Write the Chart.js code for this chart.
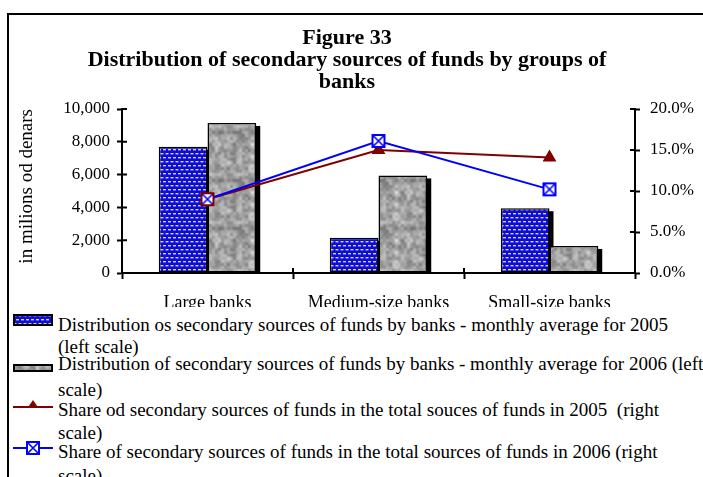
<!DOCTYPE html>
<html><head><meta charset="utf-8">
<script src="https://cdn.jsdelivr.net/npm/chart.js@4.4.0/dist/chart.umd.min.js"></script>
<style>
html,body{margin:0;padding:0;background:#fff;width:703px;height:477px;overflow:hidden;}
#frame{position:absolute;left:7px;top:13px;width:800px;height:600px;border-left:2px solid #000;border-top:2px solid #000;}
#c{position:absolute;left:0;top:0;}
#legend{position:absolute;left:10px;top:307px;width:693px;height:170px;background:#fff;font-family:"Liberation Serif","Times New Roman",serif;font-size:19px;color:#000;overflow:hidden;}
.item{position:absolute;left:48px;white-space:pre;}
.icon{position:absolute;left:3px;}
</style></head><body>
<div id="frame"></div>
<canvas id="c" width="703" height="477"></canvas>
<div id="legend"></div>
<script>
// ---- data ----
const categories = ['Large banks', 'Medium-size banks', 'Small-size banks'];
const funds2005 = [7700, 2150, 3950];
const funds2006 = [9150, 5950, 1650];
const share2005 = [9.0, 15.0, 14.1];
const share2006 = [9.0, 16.1, 10.2];
const leftTicks = [0, 2000, 4000, 6000, 8000, 10000];
const rightTicks = [0, 5, 10, 15, 20];
const titleLines = ['Figure 33', 'Distribution of secondary sources of funds by groups of', 'banks'];
const yTitle = 'in milions od denars';
const legendLabels = [
  ['Distribution os secondary sources of funds by banks - monthly average for 2005', '(left scale)'],
  ['Distribution of secondary sources of funds by banks - monthly average for 2006 (left', 'scale)'],
  ['Share od secondary sources of funds in the total souces of funds in 2005  (right', 'scale)'],
  ['Share of secondary sources of funds in the total sources of funds in 2006 (right', 'scale)']
];

// ---- styles ----
const FONT = '"Liberation Serif", "Times New Roman", serif';
const RED = '#800000', BLUE = '#0000ff';

function bluePattern(ctx) {
  const c = document.createElement('canvas'); c.width = 10; c.height = 8;
  const g = c.getContext('2d');
  g.fillStyle = '#0a0af2'; g.fillRect(0, 0, 10, 8);
  g.fillStyle = '#e4dc48';
  g.fillRect(0.5, 1, 3, 1.4); g.fillRect(5.5, 1, 3, 1.4);
  g.fillRect(3, 5, 3, 1.4); g.fillRect(8, 5, 2, 1.4); g.fillRect(0, 5, 1, 1.4);
  return ctx.createPattern(c, 'repeat');
}
function hash(x, y) {
  let n = (Math.imul(x, 374761393) + Math.imul(y, 668265263)) | 0;
  n = Math.imul(n ^ (n >>> 13), 1274126177);
  return ((n ^ (n >>> 16)) >>> 0) / 4294967296;
}
function grayPattern(ctx) {
  const S = 48, c = document.createElement('canvas'); c.width = S; c.height = S;
  const g = c.getContext('2d'); const img = g.createImageData(S, S);
  function vn(x, y, cell, salt) {
    const N = S / cell, gx = x / cell, gy = y / cell;
    const x0 = Math.floor(gx), y0 = Math.floor(gy), fx = gx - x0, fy = gy - y0;
    const sx = fx * fx * (3 - 2 * fx), sy = fy * fy * (3 - 2 * fy);
    const v = (i, j) => hash(((i % N) + N) % N + salt, ((j % N) + N) % N);
    const a = v(x0, y0), b = v(x0 + 1, y0), cc = v(x0, y0 + 1), d = v(x0 + 1, y0 + 1);
    return a + (b - a) * sx + (cc - a) * sy + (a - b - cc + d) * sx * sy;
  }
  for (let y = 0; y < S; y++) for (let x = 0; x < S; x++) {
    const val = 0.55 * vn(x, y, 6, 17) + 0.45 * vn(x, y, 3, 91);
    const gr = Math.round(110 + val * 115);
    const k = (y * S + x) * 4;
    img.data[k] = gr; img.data[k + 1] = gr; img.data[k + 2] = gr; img.data[k + 3] = 255;
  }
  g.putImageData(img, 0, 0);
  return ctx.createPattern(c, 'repeat');
}
function squareX(border) {
  const c = document.createElement('canvas'); c.width = 16; c.height = 16;
  const g = c.getContext('2d');
  g.fillStyle = '#fff'; g.fillRect(2, 2, 12, 12);
  g.strokeStyle = BLUE; g.lineWidth = 1.6;
  g.beginPath(); g.moveTo(3, 3); g.lineTo(13, 13); g.moveTo(13, 3); g.lineTo(3, 13); g.stroke();
  g.strokeStyle = border; g.lineWidth = 2; g.strokeRect(2, 2, 12, 12);
  return c;
}

const canvas = document.getElementById('c');
const ctx = canvas.getContext('2d');
const bluePat = bluePattern(ctx), grayPat = grayPattern(ctx);
const sqBlue = squareX(BLUE), sqRed = squareX(RED);

const shadowPlugin = {
  id: 'barShadow',
  beforeDatasetsDraw(chart) {
    const c = chart.ctx; c.save(); c.fillStyle = '#000';
    [0, 1].forEach(di => {
      chart.getDatasetMeta(di).data.forEach(el => {
        const p = el.getProps(['x', 'y', 'width', 'base'], true);
        c.fillRect(p.x - p.width / 2 + 4, p.y + 3, p.width, p.base - p.y - 3);
      });
    });
    c.restore();
  }
};
const innerTicks = {
  id: 'innerTicks',
  afterDraw(chart) {
    const c = chart.ctx, { x, y, y1 } = chart.scales;
    c.save(); c.strokeStyle = '#000'; c.lineWidth = 2; c.beginPath();
    y.ticks.forEach(t => { const p = y.getPixelForValue(t.value); c.moveTo(y.right, p); c.lineTo(y.right + 5, p); });
    y1.ticks.forEach(t => { const p = y1.getPixelForValue(t.value); c.moveTo(y1.left - 5, p); c.lineTo(y1.left, p); });
    for (let i = 0; i < categories.length - 1; i++) {
      const p = (x.getPixelForValue(i) + x.getPixelForValue(i + 1)) / 2;
      c.moveTo(p, x.top - 5); c.lineTo(p, x.top);
    }
    c.stroke(); c.restore();
  }
};

const tickFont = { family: FONT, size: 17 };
new Chart(canvas, {
  data: {
    labels: categories,
    datasets: [
      { type: 'bar', label: legendLabels[0].join(' '), data: funds2005, yAxisID: 'y', order: 2,
        backgroundColor: bluePat, borderColor: '#000', borderWidth: 1.5, borderSkipped: false,
        categoryPercentage: 0.57, barPercentage: 1.0 },
      { type: 'bar', label: legendLabels[1].join(' '), data: funds2006, yAxisID: 'y', order: 2,
        backgroundColor: grayPat, borderColor: '#000', borderWidth: 1.5, borderSkipped: false,
        categoryPercentage: 0.57, barPercentage: 1.0 },
      { type: 'line', label: legendLabels[2].join(' '), data: share2005, yAxisID: 'y1', order: 1,
        borderColor: RED, borderWidth: 2, backgroundColor: RED, pointBackgroundColor: RED,
        pointBorderColor: RED, pointStyle: 'triangle', pointRadius: 6, tension: 0, fill: false },
      { type: 'line', label: legendLabels[3].join(' '), data: share2006, yAxisID: 'y1', order: 0,
        borderColor: BLUE, borderWidth: 2, pointStyle: [sqRed, sqBlue, sqBlue], pointRadius: 7,
        tension: 0, fill: false }
    ]
  },
  options: {
    responsive: false, animation: false, devicePixelRatio: 1, events: [],
    layout: { padding: { top: 0, left: 0, right: 9, bottom: 164 } },
    plugins: {
      legend: { display: false }, tooltip: { enabled: false },
      title: { display: true, text: titleLines, color: '#000',
        font: { family: FONT, size: 22, weight: 'bold', lineHeight: '22px' },
        padding: { top: 27, bottom: 16 } }
    },
    scales: {
      x: { type: 'category', offset: true,
        grid: { display: true, drawOnChartArea: false, offset: true, tickLength: 6, tickColor: '#000', tickWidth: 2 },
        border: { color: '#000', width: 2, z: 1 },
        ticks: { color: '#000', font: { family: FONT, size: 18 }, padding: 13, maxRotation: 0, autoSkip: false },
        afterFit: s => { s.height = 40; } },
      y: { type: 'linear', position: 'left',
        min: leftTicks[0], max: leftTicks[leftTicks.length - 1],
        grid: { drawOnChartArea: false, tickLength: 5, tickColor: '#000', tickWidth: 2 },
        border: { color: '#000', width: 2, z: 1 },
        ticks: { color: '#000', font: tickFont, padding: 7, stepSize: leftTicks[1] - leftTicks[0],
          callback: v => v.toLocaleString('en-US') },
        title: { display: true, text: yTitle, align: 'end', color: '#000', font: { family: FONT, size: 19 }, padding: { top: 16, bottom: 0 } },
        afterFit: s => { s.width = 122; } },
      y1: { type: 'linear', position: 'right',
        min: rightTicks[0], max: rightTicks[rightTicks.length - 1],
        grid: { drawOnChartArea: false, tickLength: 5, tickColor: '#000', tickWidth: 2 },
        border: { color: '#000', width: 2, z: 1 },
        ticks: { color: '#000', font: tickFont, padding: 10, stepSize: rightTicks[1] - rightTicks[0],
          callback: v => v.toFixed(1) + '%' },
        afterFit: s => { s.width = 59; } }
    }
  },
  plugins: [shadowPlugin, innerTicks]
});

// ---- HTML legend ----
const legend = document.getElementById('legend');
const LTOP = 307;
const itemLayout = [{ c: 325, lh: 22 }, { c: 364, lh: 26 }, { c: 409, lh: 23 }, { c: 452, lh: 24 }];
const iconLayout = [{ top: 314, h: 12 }, { top: 364, h: 8 }, { top: 399, h: 14 }, { top: 440, h: 16 }];
legendLabels.forEach((lines, i) => {
  const d = document.createElement('div');
  d.className = 'item';
  d.style.top = (itemLayout[i].c - itemLayout[i].lh / 2 - LTOP) + 'px';
  d.style.lineHeight = itemLayout[i].lh + 'px';
  d.textContent = lines.join('\n');
  legend.appendChild(d);
  const ic = document.createElement('canvas');
  ic.className = 'icon'; ic.width = 40; ic.height = iconLayout[i].h;
  ic.style.top = (iconLayout[i].top - LTOP) + 'px';
  const g = ic.getContext('2d'), h = iconLayout[i].h;
  if (i < 2) {
    g.fillStyle = i === 0 ? bluePattern(g) : grayPattern(g);
    g.fillRect(1, 1, 38, h - 2);
    g.strokeStyle = '#000'; g.lineWidth = 2; g.strokeRect(1, 1, 38, h - 2);
  } else if (i === 2) {
    g.strokeStyle = RED; g.lineWidth = 2;
    g.beginPath(); g.moveTo(0, h / 2 + 1); g.lineTo(40, h / 2 + 1); g.stroke();
    g.fillStyle = RED; g.beginPath(); g.moveTo(20, 1); g.lineTo(25.5, 9); g.lineTo(14.5, 9); g.closePath(); g.fill();
  } else {
    g.strokeStyle = BLUE; g.lineWidth = 2;
    g.beginPath(); g.moveTo(0, h / 2); g.lineTo(40, h / 2); g.stroke();
    g.drawImage(sqBlue, 12, 0);
  }
  legend.appendChild(ic);
});
</script>
</body></html>
